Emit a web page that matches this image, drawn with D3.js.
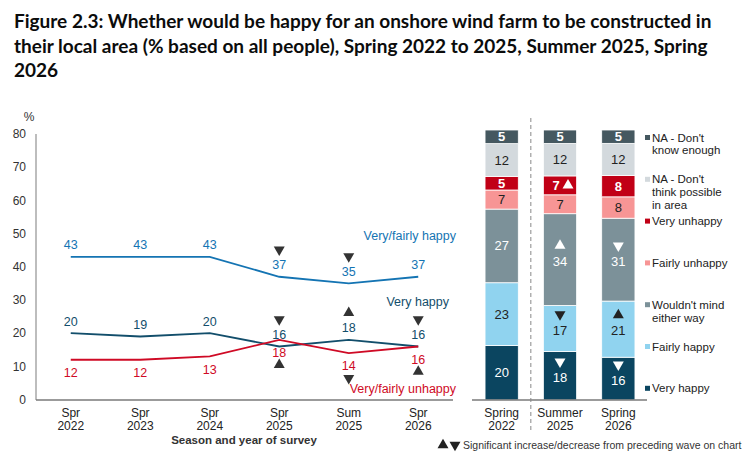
<!DOCTYPE html>
<html>
<head>
<meta charset="UTF-8" />
<script src="https://d3js.org/d3.v7.min.js"></script>
<style>
  body { margin: 0; background: #fff; }
  text { font-family: "Liberation Sans", Arial, sans-serif; }
</style>
</head>
<body>
<svg id="svg"></svg>
<script>
// ---- data ----
var waves = ["Spr 2022", "Spr 2023", "Spr 2024", "Spr 2025", "Sum 2025", "Spr 2026"];
var happyVals = [43, 43, 43, 37, 35, 37];
var veryHappyVals = [20, 19, 20, 16, 18, 16];
var unhappyVals = [12, 12, 13, 18, 14, 16];
// 1 = significant increase, -1 = significant decrease
var happySig = [0, 0, 0, -1, -1, 0];
var veryHappySig = [0, 0, 0, -1, 1, -1];
var unhappySig = [0, 0, 0, 1, -1, 1];
var yTicks = [0, 10, 20, 30, 40, 50, 60, 70, 80];

var barWaves = ["Spring 2022", "Summer 2025", "Spring 2026"];
var veryHappyBar = [20, 18, 16];
var fairlyHappyBar = [23, 17, 21];
var wouldntMindBar = [27, 34, 31];
var fairlyUnhappyBar = [7, 7, 8];
var veryUnhappyBar = [5, 7, 8];
var naPossibleBar = [12, 12, 12];
var naKnowBar = [5, 5, 5];
var veryHappyBarSig = [0, -1, -1];
var fairlyHappyBarSig = [0, -1, 1];
var wouldntMindBarSig = [0, 1, -1];
var fairlyUnhappyBarSig = [0, 0, 0];
var veryUnhappyBarSig = [0, 1, 0];
var naPossibleBarSig = [0, 0, 0];
var naKnowBarSig = [0, 0, 0];

var width = 752, height = 459;
var svg = d3.select("#svg").attr("width", width).attr("height", height);

// ---- title ----
var titleLines = [
  "Figure 2.3: Whether would be happy for an onshore wind farm to be constructed in",
  "their local area (% based on all people), Spring 2022 to 2025, Summer 2025, Spring",
  "2026"
];
svg.append("g").selectAll("text").data(titleLines).enter().append("text")
  .attr("x", 14).attr("y", (d, i) => 28 + i * 24.5)
  .style("font-family", "Lato, 'Liberation Sans', sans-serif")
  .style("font-weight", "bold").style("font-size", "19px").attr("fill", "#0b0c0c")
  .text(d => d);

// ---- line chart ----
var x = d3.scalePoint().domain(waves).range([36, 453]).padding(0.5);
var y = d3.scaleLinear().domain([0, 80]).range([399.6, 134]);

svg.append("line").attr("x1", 36).attr("x2", 36).attr("y1", 134).attr("y2", 400)
  .attr("stroke", "#bdbdbd").attr("stroke-width", 2);
svg.append("line").attr("x1", 36).attr("x2", 453).attr("y1", 400).attr("y2", 400)
  .attr("stroke", "#7a7a7a").attr("stroke-width", 1.5);

svg.append("g").selectAll("text").data(yTicks).enter().append("text")
  .attr("x", 26).attr("y", d => y(d)).attr("dy", "0.35em")
  .attr("text-anchor", "end").style("font-size", "12px").attr("fill", "#333")
  .text(d => d);
svg.append("text").attr("x", 29).attr("y", 121).attr("text-anchor", "middle")
  .style("font-size", "12px").attr("fill", "#333").text("%");

var xt = svg.append("g").selectAll("text").data(waves).enter().append("text")
  .attr("text-anchor", "middle").style("font-size", "12px").attr("fill", "#222");
xt.append("tspan").attr("x", d => x(d)).attr("y", 417).text(d => d.split(" ")[0]);
xt.append("tspan").attr("x", d => x(d)).attr("y", 430).text(d => d.split(" ")[1]);
svg.append("text").attr("x", 244).attr("y", 444).attr("text-anchor", "middle")
  .style("font-size", "11.5px").style("font-weight", "bold").attr("fill", "#333")
  .text("Season and year of survey");

var tri = d3.symbol().type(d3.symbolTriangle).size(52);

var series = [
  { name: "Very/fairly happy", vals: happyVals, sig: happySig, color: "#1474b3", side: -1, ly: 49.5, lx: 456 },
  { name: "Very happy", vals: veryHappyVals, sig: veryHappySig, color: "#124e6b", side: -1, ly: 29.5, lx: 449 },
  { name: "Very/fairly unhappy", vals: unhappyVals, sig: unhappySig, color: "#cf0a25", side: 1, ly: 3.2, lx: 456 }
];

var line = d3.line().x((d, i) => x(waves[i])).y(d => y(d));

series.forEach(s => {
  var g = svg.append("g");
  g.append("path").datum(s.vals).attr("d", line).attr("fill", "none")
    .attr("stroke", s.color).attr("stroke-width", 1.8);
  g.selectAll(".lbl").data(s.vals).enter().append("text")
    .attr("x", (d, i) => x(waves[i]))
    .attr("y", d => y(d) + (s.side < 0 ? -12 : 13)).attr("dy", "0.35em")
    .attr("text-anchor", "middle").style("font-size", "12.5px").attr("fill", s.color)
    .text(d => d);
  g.selectAll("path.tri").data(s.vals.map((v, i) => ({ v: v, i: i, sig: s.sig[i] })).filter(d => d.sig !== 0))
    .enter().append("path").attr("class", "tri")
    .attr("d", tri).attr("fill", "#333")
    .attr("transform", d => "translate(" + x(waves[d.i]) + "," + (y(d.v) + (s.side < 0 ? -27 : 25)) + ")" + (d.sig < 0 ? " rotate(180)" : ""));
  g.append("text").attr("x", s.lx).attr("y", y(s.ly)).attr("dy", "0.35em")
    .attr("text-anchor", "end").style("font-size", "12.5px").attr("fill", s.color)
    .text(s.name);
});

// ---- stacked bars ----
var keys = ["veryHappy", "fairlyHappy", "wouldntMind", "fairlyUnhappy", "veryUnhappy", "naPossible", "naKnow"];
var colors = {
  veryHappy: "#0b4560", fairlyHappy: "#90d3ef", wouldntMind: "#7c9199",
  fairlyUnhappy: "#f79595", veryUnhappy: "#c10016", naPossible: "#d3d9dd", naKnow: "#455860"
};
var textCol = {
  veryHappy: "#fff", fairlyHappy: "#222", wouldntMind: "#fff",
  fairlyUnhappy: "#222", veryUnhappy: "#fff", naPossible: "#222", naKnow: "#fff"
};
var barVals = {
  veryHappy: veryHappyBar, fairlyHappy: fairlyHappyBar, wouldntMind: wouldntMindBar,
  fairlyUnhappy: fairlyUnhappyBar, veryUnhappy: veryUnhappyBar, naPossible: naPossibleBar, naKnow: naKnowBar
};
var barSig = {
  veryHappy: veryHappyBarSig, fairlyHappy: fairlyHappyBarSig, wouldntMind: wouldntMindBarSig,
  fairlyUnhappy: fairlyUnhappyBarSig, veryUnhappy: veryUnhappyBarSig, naPossible: naPossibleBarSig, naKnow: naKnowBarSig
};
var table = barWaves.map((w, i) => {
  var row = { wave: w };
  keys.forEach(k => row[k] = barVals[k][i]);
  return row;
});
var stacked = d3.stack().keys(keys).offset(d3.stackOffsetExpand)(table);

var xb = d3.scaleBand().domain(barWaves).range([472.5, 647.5]).paddingInner(0.43).paddingOuter(0.215);
var yb = d3.scaleLinear().domain([0, 1]).range([400, 130]);

var layers = svg.append("g").selectAll("g").data(stacked).enter().append("g");
layers.selectAll("rect").data(d => d.map(p => Object.assign(p, { key: d.key }))).enter().append("rect")
  .attr("x", d => xb(d.data.wave)).attr("width", xb.bandwidth())
  .attr("y", d => yb(d[1])).attr("height", d => yb(d[0]) - yb(d[1]))
  .attr("fill", d => colors[d.key]).attr("stroke", "#fff").attr("stroke-width", 0.8);

layers.each(function (layer) {
  var k = layer.key;
  layer.forEach((p, i) => {
    var cx = xb(p.data.wave) + xb.bandwidth() / 2;
    var cy = (yb(p[0]) + yb(p[1])) / 2;
    var s = barSig[k][i];
    var bold = (k === "naKnow" || k === "veryUnhappy");
    var lx = cx, ly = cy;
    if (s !== 0) {
      var tx = cx, ty = cy - 14;
      if (k === "veryUnhappy") { lx = cx - 4; tx = cx + 8; ty = cy; }
      else { ly = cy + 1.5; }
      svg.append("path").attr("d", tri).attr("fill", textCol[k])
        .attr("transform", "translate(" + tx + "," + ty + ")" + (s < 0 ? " rotate(180)" : ""));
    }
    svg.append("text").attr("x", lx).attr("y", ly).attr("dy", "0.35em")
      .attr("text-anchor", "middle").style("font-size", "13px")
      .style("font-weight", bold ? "bold" : "normal").attr("fill", textCol[k])
      .text(barVals[k][i]);
  });
});

svg.append("line").attr("x1", 472).attr("x2", 647).attr("y1", 400).attr("y2", 400)
  .attr("stroke", "#7a7a7a").attr("stroke-width", 1.5);
var dashX = xb(barWaves[0]) + xb.bandwidth() + (xb.step() - xb.bandwidth()) / 2;
svg.append("line").attr("x1", dashX).attr("x2", dashX).attr("y1", 118).attr("y2", 430)
  .attr("stroke", "#888").attr("stroke-width", 1).attr("stroke-dasharray", "4,3");

var bt = svg.append("g").selectAll("text").data(barWaves).enter().append("text")
  .attr("text-anchor", "middle").style("font-size", "12px").attr("fill", "#222");
bt.append("tspan").attr("x", d => xb(d) + xb.bandwidth() / 2).attr("y", 417).text(d => d.split(" ")[0]);
bt.append("tspan").attr("x", d => xb(d) + xb.bandwidth() / 2).attr("y", 430).text(d => d.split(" ")[1]);

// ---- legend ----
var legendItems = [
  { key: "naKnow", lines: ["NA - Don't", "know enough"] },
  { key: "naPossible", lines: ["NA - Don't", "think possible", "in area"] },
  { key: "veryUnhappy", lines: ["Very unhappy"] },
  { key: "fairlyUnhappy", lines: ["Fairly unhappy"] },
  { key: "wouldntMind", lines: ["Wouldn't mind", "either way"] },
  { key: "fairlyHappy", lines: ["Fairly happy"] },
  { key: "veryHappy", lines: ["Very happy"] }
];
var lg = svg.append("g").selectAll("g").data(legendItems).enter().append("g")
  .attr("transform", (d, i) => "translate(645," + (137.5 + i * 41.8) + ")");
lg.append("rect").attr("x", 0).attr("y", -2.5).attr("width", 5).attr("height", 5)
  .attr("fill", d => colors[d.key]);
lg.each(function (d) {
  var t = d3.select(this).append("text").style("font-size", "11.5px").attr("fill", "#222");
  d.lines.forEach((l, j) => {
    t.append("tspan").attr("x", 7).attr("y", j * 12.8).attr("dy", "0.35em").text(l);
  });
});

// ---- footnote ----
svg.append("path").attr("d", tri).attr("fill", "#222").attr("transform", "translate(443,445)");
svg.append("path").attr("d", tri).attr("fill", "#222").attr("transform", "translate(455,445) rotate(180)");
svg.append("text").attr("x", 463).attr("y", 445).attr("dy", "0.35em")
  .style("font-size", "10.5px").attr("fill", "#333")
  .text("Significant increase/decrease from preceding wave on chart");
</script>
</body>
</html>
